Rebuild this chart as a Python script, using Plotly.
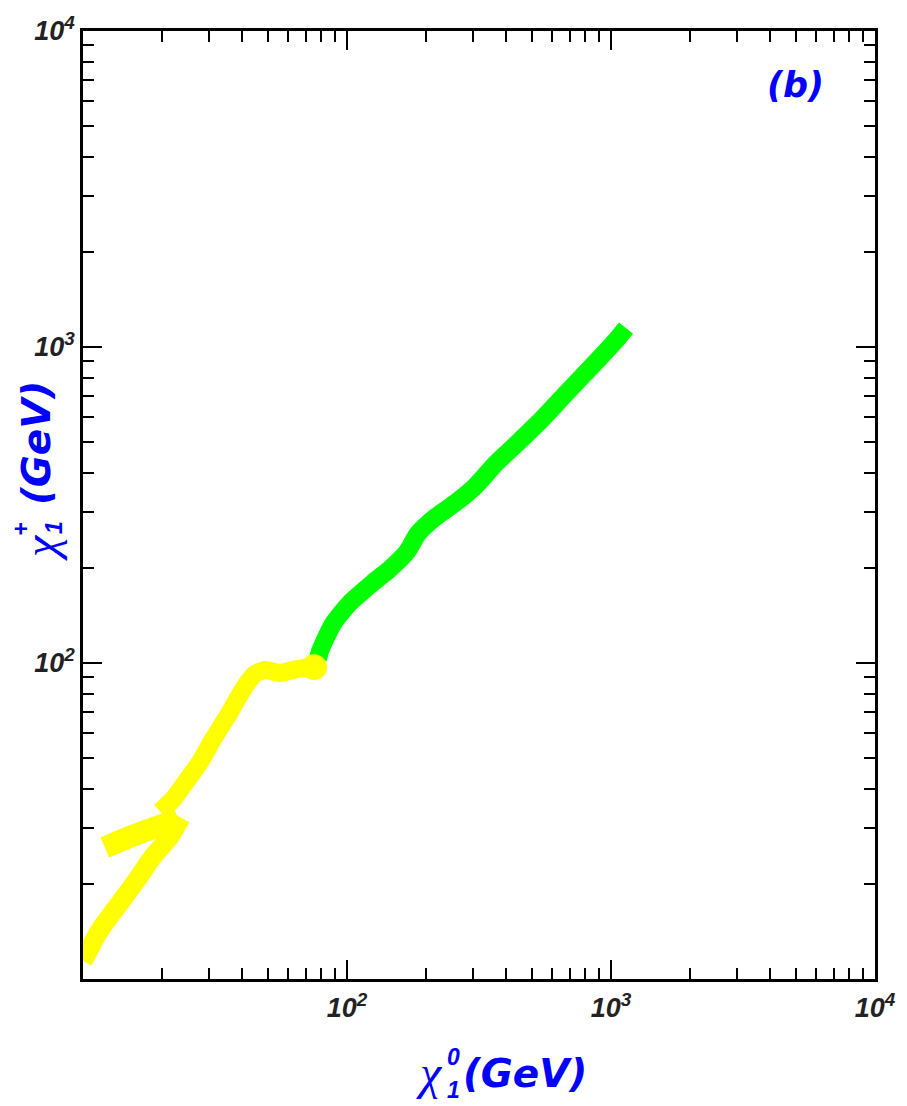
import plotly.graph_objects as go

# Neutralino (chi^0_1) vs chargino (chi^+_1) masses, GeV
yellow_low_x = [10.0, 11.6, 13.8, 16.0, 18.4, 21.4, 23.5]
yellow_low_y = [11.4, 14.3, 17.4, 20.6, 24.4, 28.3, 32.4]

yellow_lobe_x = [12.1, 15.1, 18.4, 22.9]
yellow_lobe_y = [26.1, 28.2, 30.0, 32.0]

yellow_main_x = [19.6, 21.9, 24.3, 27.7, 31.1, 36.0, 40.4, 44.8, 48.9, 55.7, 64.7, 74.3, 79.1]
yellow_main_y = [33.9, 37.0, 41.6, 48.5, 57.4, 69.8, 82.6, 92.3, 95.0, 93.0, 95.7, 97.8, 100.0]

yellow_end_x = [75.0]
yellow_end_y = [97.0]

green_x = [77.7, 79.1, 88.5, 102.6, 125.3, 145.5, 168.8, 185.7, 215.4, 261.0, 305.6,
           363.8, 440.8, 552.6, 699.7, 855.0, 1054.0, 1140.0]
green_y = [103.0, 109.2, 133.0, 155.0, 179.5, 198.6, 224.9, 256.9, 288.7, 324.0, 362.0,
           425.6, 495.5, 595.7, 736.0, 877.0, 1059.0, 1148.0]

tick_vals = [100, 1000, 10000]
tick_text = ["<i>10<sup>2</sup></i>", "<i>10<sup>3</sup></i>", "<i>10<sup>4</sup></i>"]

YELLOW = "#ffff00"
GREEN = "#00ff00"
BLUE = "#0000ff"

fig = go.Figure()


def band(x, y, color, width):
    fig.add_trace(go.Scatter(x=x, y=y, mode="lines",
                             line=dict(color=color, width=width, shape="spline", smoothing=0.6),
                             hoverinfo="skip", showlegend=False))


band(yellow_low_x, yellow_low_y, YELLOW, 19)
band(yellow_lobe_x, yellow_lobe_y, YELLOW, 22)
band(yellow_main_x, yellow_main_y, YELLOW, 18)
band(green_x, green_y, GREEN, 18)
fig.add_trace(go.Scatter(x=yellow_end_x, y=yellow_end_y, mode="markers",
                         marker=dict(color=YELLOW, size=26, line=dict(width=0)),
                         hoverinfo="skip", showlegend=False))

axis_common = dict(
    type="log",
    range=[1, 4],
    tickvals=tick_vals,
    ticktext=tick_text,
    ticks="inside",
    ticklen=19,
    tickwidth=2,
    tickcolor="black",
    showline=True,
    linewidth=2.5,
    linecolor="black",
    mirror="allticks",
    showgrid=False,
    zeroline=False,
    tickfont=dict(family="Liberation Sans, Arial", size=27, color="#222222", weight="bold"),
    minor=dict(dtick="D1", ticks="inside", ticklen=11, tickwidth=1.8,
               tickcolor="black", showgrid=False),
)

fig.update_xaxes(**axis_common, ticklabelstandoff=3)
fig.update_yaxes(**axis_common)

PL, PR, PT, PB = 83, 875, 31, 979
W, H = 907, 1106


def px(x):
    return (x - PL) / (PR - PL)


def py(y):
    return (PB - y) / (PB - PT)


ann = []
title_font = dict(family="DejaVu Sans", size=39, color=BLUE, weight="bold", style="italic")
chi_font = dict(family="Liberation Serif, Times New Roman", size=48, color=BLUE, style="italic")
idx_font = dict(family="Liberation Sans, Arial", size=23, color=BLUE, weight="bold", style="italic")

# x-axis title: chi^0_1 (GeV)
ann.append(dict(text="χ", x=px(445), y=py(1072), xanchor="right", yanchor="middle", font=chi_font))
ann.append(dict(text="0", x=px(445), y=py(1057), xanchor="left", yanchor="middle", font=idx_font))
ann.append(dict(text="1", x=px(445), y=py(1090), xanchor="left", yanchor="middle", font=idx_font))
ann.append(dict(text="(GeV)", x=px(461), y=py(1073), xanchor="left", yanchor="middle", font=title_font))

# y-axis title: chi^+_1 (GeV)
ann.append(dict(text="χ", x=px(40), y=py(548), xanchor="center", yanchor="middle",
                textangle=-90, font=chi_font))
ann.append(dict(text="+", x=px(21), y=py(530), xanchor="center", yanchor="middle",
                textangle=-90, font=idx_font))
ann.append(dict(text="1", x=px(54), y=py(528), xanchor="center", yanchor="middle",
                textangle=-90, font=idx_font))
ann.append(dict(text="(GeV)", x=px(36), y=py(443), xanchor="center", yanchor="middle",
                textangle=-90, font=title_font))

# panel label
ann.append(dict(text="(b)", x=px(795), y=py(85), xanchor="center", yanchor="middle",
                font=dict(family="DejaVu Sans", size=35, color=BLUE,
                          weight="bold", style="italic")))

for a in ann:
    a.update(xref="paper", yref="paper", showarrow=False)

fig.update_layout(
    width=W, height=H,
    margin=dict(l=PL, r=W - PR, t=PT, b=H - PB),
    paper_bgcolor="white",
    plot_bgcolor="white",
    annotations=ann,
)

fig.write_html("out.html")
